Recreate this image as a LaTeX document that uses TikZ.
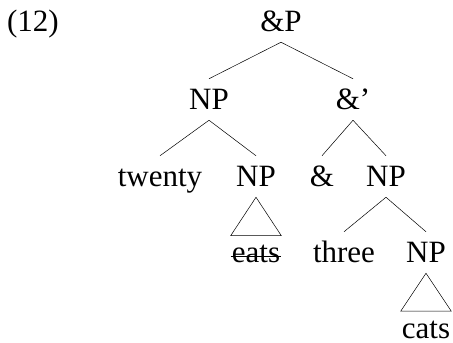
\documentclass[tikz,border=0pt]{standalone}
\usepackage{fontspec}
\setmainfont{Liberation Serif}
\usetikzlibrary{calc}
\tikzset{cat/.style={anchor=base, text height=21pt, text depth=0pt, inner ysep=10pt, inner xsep=1pt}}

\begin{document}
\begin{tikzpicture}[x=1pt,y=1pt,line width=0.5pt,font=\fontsize{31}{37}\selectfont]
        \useasboundingbox (0,0) rectangle (453,343);
        \node[cat] (num) at (33,311) {(12)};

        % labels, row by row
        \node[cat] (andP) at (281,311) {\&P};
        \node[cat] (np1) at (209,233) {NP};
        \node[cat] (andbar) at (353,233) {\&'};
        \node[cat] (twenty) at (160,156) {twenty};
        \node[cat] (np2) at (256,156) {NP};
        \node[cat] (and) at (322,156) {\&};
        \node[cat] (np3) at (386,156) {NP};
        \node[cat] (eats) at (256,80) {eats};
        \node[cat] (three) at (344,80) {three};
        \node[cat] (np4) at (426,80) {NP};
        \node[cat] (cats) at (426,4.5) {cats};

        % branches
        \draw (andP.south) -- (np1.north);
        \draw (andP.south) -- (andbar.north);
        \draw (np1.south) -- (twenty.north);
        \draw (np1.south) -- (np2.north);
        \draw (andbar.south) -- (and.north);
        \draw (andbar.south) -- (np3.north);
        \draw (np3.south) -- (three.north);
        \draw (np3.south) -- (np4.north);

        % triangles
        \draw (np2.south) -- ($(eats.north west)+(0,-4)$) -- ($(eats.north east)+(0,-4)$) -- cycle;
        \draw (np4.south) -- ($(cats.north west)+(0,-4)$) -- ($(cats.north east)+(0,-4)$) -- cycle;

        % struck out copy
        \draw ($(eats.base west)+(0,6.5)$) -- ($(eats.base east)+(0,6.5)$);
\end{tikzpicture}
\end{document}
